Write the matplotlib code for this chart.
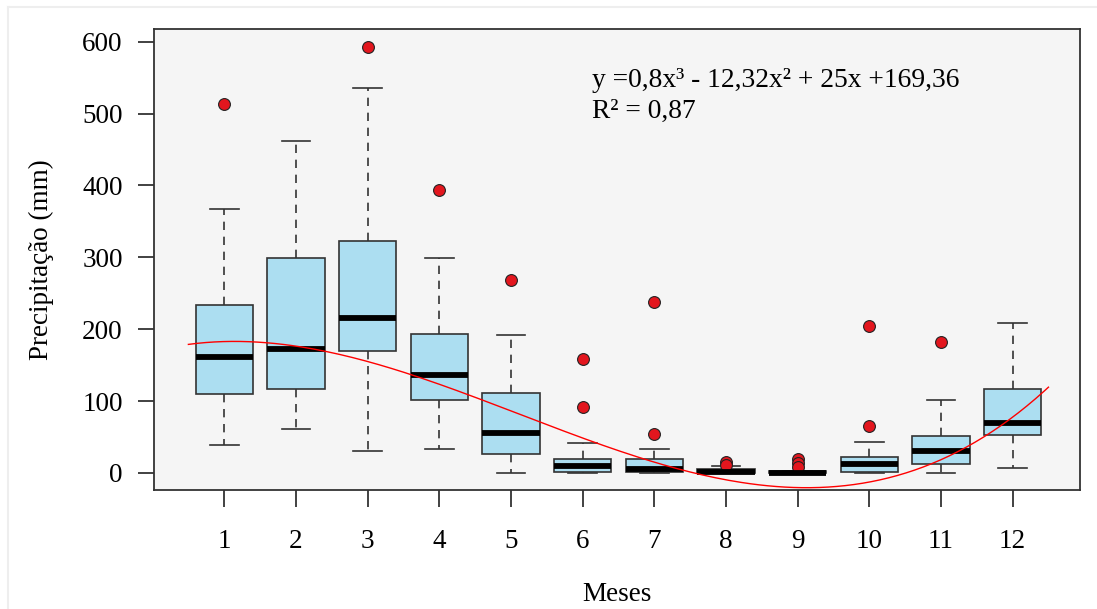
import matplotlib
matplotlib.use("Agg")
import matplotlib.pyplot as plt
import numpy as np

# box statistics (mm)
months = [1, 2, 3, 4, 5, 6, 7, 8, 9, 10, 11, 12]
whis_lo = [39, 61, 31, 34, 0, 0, 0, 0, 0, 0, 0, 7]
q1 = [110, 117, 170, 102, 27, 2, 2, 0, 0, 2, 12, 53]
med = [161, 173, 216, 136, 56, 10, 5, 1, 0, 12, 31, 70]
q3 = [233, 299, 323, 194, 111, 20, 19, 5, 3, 22, 51, 117]
whis_hi = [367, 462, 535, 299, 192, 41, 34, 9, 3, 43, 102, 209]
fliers = [[513], [], [593], [394], [268], [158, 92], [238, 54],
          [15, 11], [20, 14, 8], [204, 66], [182], []]

# fitted cubic shown on the chart
coef = [0.8, -12.32, 25, 169.36]
fit_range = [0.5, 12.5]

plt.rcParams['font.family'] = ['Liberation Serif', 'DejaVu Serif']

fig = plt.figure(figsize=(10.97, 6.09), dpi=100)
ax = fig.add_axes([154 / 1097, 119 / 609, 926 / 1097, 461 / 609])
ax.set_facecolor('#F5F5F5')

stats = []
for i in range(len(months)):
    stats.append({'whislo': whis_lo[i], 'q1': q1[i], 'med': med[i], 'q3': q3[i],
                  'whishi': whis_hi[i], 'fliers': fliers[i]})

edge = '#333333'
ax.bxp(stats, positions=months, widths=0.8, patch_artist=True, showfliers=True,
       boxprops=dict(facecolor='#ACDEF1', edgecolor=edge, linewidth=1.2),
       medianprops=dict(color='black', linewidth=4.2, solid_capstyle='butt'),
       whiskerprops=dict(color=edge, linewidth=1.2, linestyle=(0, (5, 4))),
       capprops=dict(color=edge, linewidth=1.2),
       capwidths=0.4,
       flierprops=dict(marker='o', markerfacecolor='#E3161E', markeredgecolor='#222222',
                       markeredgewidth=0.8, markersize=8.5, linestyle='none'))

xs = np.linspace(fit_range[0], fit_range[1], 200)
ax.plot(xs, np.polyval(coef, xs), color='red', linewidth=1.0, zorder=5)

ax.set_xlim(0.02, 12.94)
ax.set_ylim(-23.7, 617.7)
ax.set_xticks(months)
ax.set_xticklabels([str(m) for m in months])
ax.set_yticks([0, 100, 200, 300, 400, 500, 600])

for s in ax.spines.values():
    s.set_color(edge)
    s.set_linewidth(1.3)
ax.tick_params(axis='y', length=11.5, width=1.3, color=edge, pad=11, labelsize=19.5)
ax.tick_params(axis='x', length=12, width=1.3, color=edge, pad=16, labelsize=19.5)

ax.set_xlabel('Meses', fontsize=19.5, labelpad=20)
ax.set_ylabel('Precipitação (mm)', fontsize=19.5, labelpad=20)

ax.text(592 / 1097, 1 - 87 / 609, 'y =0,8x³ - 12,32x² + 25x +169,36', transform=fig.transFigure,
        fontsize=19.8, va='baseline', ha='left')
ax.text(592 / 1097, 1 - 118 / 609, 'R² = 0,87', transform=fig.transFigure,
        fontsize=19.8, va='baseline', ha='left')

# faint frame round the picture
fig.add_artist(plt.Line2D([8 / 1097, 1], [1 - 7 / 609, 1 - 7 / 609], color='#EEEEEE', linewidth=1.5))
fig.add_artist(plt.Line2D([8 / 1097, 8 / 1097], [0, 1 - 7 / 609], color='#EEEEEE', linewidth=1.5))

fig.savefig('out.png', dpi=100)
